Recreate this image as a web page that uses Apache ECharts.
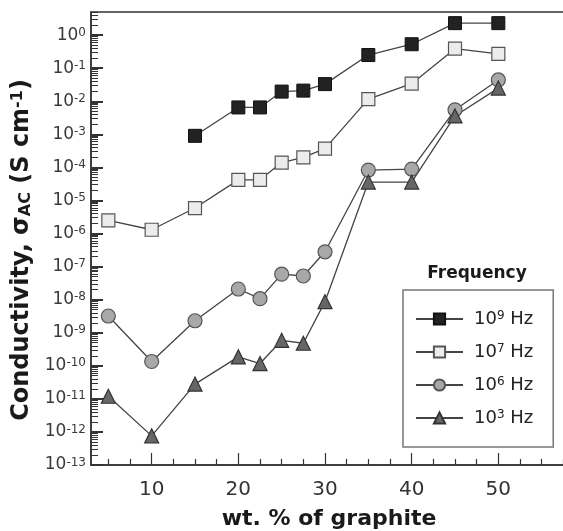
<!DOCTYPE html>
<html>
<head>
<meta charset="utf-8">
<script src="https://cdn.jsdelivr.net/npm/echarts@6/dist/echarts.min.js"></script>
<style>
html,body{margin:0;padding:0;background:#fff;}
#box1{width:563px;height:531px;}
</style>
</head>
<body>
<div id="box1"></div>
<script>
// wt. % graphite
var wt = [5, 10, 15, 20, 22.5, 25, 27.5, 30, 35, 40, 45, 50];
// conductivity (S/cm) per frequency
var hz9 = [null, null, 9e-4, 6.5e-3, 6.5e-3, 0.0196, 0.021, 0.033, 0.25, 0.53, 2.3, 2.3];
var hz7 = [2.5e-6, 1.3e-6, 5.9e-6, 4.2e-5, 4.2e-5, 1.4e-4, 2.0e-4, 3.7e-4, 0.0116, 0.034, 0.39, 0.27];
var hz6 = [3.2e-9, 1.35e-10, 2.3e-9, 2.1e-8, 1.07e-8, 5.9e-8, 5.2e-8, 2.8e-7, 8.3e-5, 8.9e-5, 5.5e-3, 0.044];
var hz3 = [1.2e-11, 7.6e-13, 2.8e-11, 1.86e-10, 1.17e-10, 5.9e-10, 4.8e-10, 8.7e-9, 3.6e-5, 3.6e-5, 3.6e-3, 0.025];

var names = ['10^9 Hz', '10^7 Hz', '10^6 Hz', '10^3 Hz'];
var xLabels = [10, 20, 30, 40, 50];
var xMinor = [5, 7.5, 12.5, 15, 17.5, 22.5, 25, 27.5, 32.5, 35, 37.5, 42.5, 45, 47.5, 52.5, 55, 57.5];

var yMin = 1e-13, yMax = 5;
var yMajor = [];
var yMinorLog = []; // minor ticks, in log10 units for the helper axis
for (var k = -13; k <= 0; k++) {
    yMajor.push(Math.pow(10, k));
    for (var m = 2; m <= 9; m++) {
        if (m * Math.pow(10, k) <= yMax) yMinorLog.push(k + Math.log10(m));
    }
}

function pairs(arr) {
    var out = [];
    for (var i = 0; i < wt.length; i++) {
        if (arr[i] != null) out.push([wt[i], arr[i]]);
    }
    return out;
}

var font = 'DejaVu Sans';
var lineCol = '#444';

var myChart = echarts.init(document.getElementById('box1'));

var option = {
    animation: false,
    backgroundColor: '#fff',
    textStyle: {fontFamily: font},
    title: {
        text: 'Frequency',
        left: 477,
        top: 265,
        padding: 0,
        textAlign: 'center',
        textStyle: {fontFamily: font, fontSize: 17, fontWeight: 'bold', color: '#1a1a1a'}
    },
    legend: {
        orient: 'vertical',
        left: 403,
        top: 290,
        padding: [20, 20, 20, 12],
        itemGap: 15,
        itemWidth: 47,
        itemHeight: 14,
        borderColor: '#777',
        borderWidth: 1.5,
        data: names,
        formatter: function (name) {
            var p = name.split(' ')[0].split('^');
            return '{b|' + p[0] + '}{s|' + p[1] + '}{b| Hz}';
        },
        textStyle: {
            padding: [0, 0, 0, 6],
            rich: {
                b: {fontFamily: font, fontSize: 18, lineHeight: 18, color: '#222'},
                s: {fontFamily: font, fontSize: 12, lineHeight: 12, verticalAlign: 'top', color: '#222'}
            }
        }
    },
    grid: {
        show: true,
        left: 91,
        top: 12,
        right: -22,
        bottom: 66,
        borderColor: '#333',
        borderWidth: 1.5,
        backgroundColor: 'transparent',
        outerBoundsMode: 'none'
    },
    xAxis: [{
        type: 'value',
        position: 'bottom',
        min: 3,
        max: 60,
        name: 'wt. % of graphite',
        nameLocation: 'middle',
        nameGap: 43,
        nameTextStyle: {fontFamily: font, fontSize: 22, fontWeight: 'bold', color: '#1a1a1a', padding: [0, 18, 0, 0]},
        axisLine: {onZero: false, lineStyle: {color: '#333', width: 1.5}},
        axisTick: {inside: true, length: 12, customValues: xLabels, lineStyle: {color: '#333', width: 1.2}},
        axisLabel: {customValues: xLabels, fontFamily: font, fontSize: 20, margin: 15, color: '#333'},
        splitLine: {show: false}
    }, {
        type: 'value',
        position: 'bottom',
        min: 3,
        max: 60,
        axisLine: {show: false, onZero: false},
        axisTick: {inside: true, length: 6, customValues: xMinor, lineStyle: {color: '#333', width: 1.2}},
        axisLabel: {show: false},
        splitLine: {show: false}
    }],
    yAxis: [{
        type: 'log',
        position: 'left',
        logBase: 10,
        min: yMin,
        max: yMax,
        name: 'Conductivity, σ{sub|AC} (S cm{sup|-1})',
        nameLocation: 'middle',
        nameRotate: 90,
        nameGap: 48,
        nameTextStyle: {
            padding: [0, 23, 0, 0],
            fontFamily: font, fontSize: 24, fontWeight: 'bold', color: '#1a1a1a',
            rich: {
                sub: {fontFamily: font, fontSize: 16, fontWeight: 'bold', lineHeight: 12, verticalAlign: 'bottom', color: '#1a1a1a'},
                sup: {fontFamily: font, fontSize: 16, fontWeight: 'bold', lineHeight: 12, verticalAlign: 'top', color: '#1a1a1a'}
            }
        },
        axisLine: {onZero: false, lineStyle: {color: '#333', width: 1.5}},
        axisTick: {inside: true, length: 12, customValues: yMajor, lineStyle: {color: '#333', width: 2}},
        axisLabel: {
            customValues: yMajor,
            margin: 5,
            formatter: function (val) {
                return '{b|10}{s|' + Math.round(Math.log10(val)) + '}';
            },
            rich: {
                b: {fontFamily: font, fontSize: 17, lineHeight: 17, color: '#3a3a3a'},
                s: {fontFamily: font, fontSize: 12, lineHeight: 12, verticalAlign: 'top', color: '#3a3a3a'}
            }
        },
        splitLine: {show: false}
    }, {
        // helper axis for log minor ticks
        type: 'value',
        position: 'left',
        min: Math.log10(yMin),
        max: Math.log10(yMax),
        axisLine: {show: false, onZero: false},
        axisTick: {inside: true, length: 7, customValues: yMinorLog, lineStyle: {color: '#333', width: 1}},
        axisLabel: {show: false},
        splitLine: {show: false}
    }],
    series: [{
        name: names[0],
        type: 'line',
        data: pairs(hz9),
        symbol: 'rect',
        symbolSize: 13,
        lineStyle: {color: lineCol, width: 1.3},
        itemStyle: {color: '#222', borderColor: '#111', borderWidth: 1}
    }, {
        name: names[1],
        type: 'line',
        data: pairs(hz7),
        symbol: 'rect',
        symbolSize: 13,
        lineStyle: {color: lineCol, width: 1.3},
        itemStyle: {color: '#ececec', borderColor: '#555', borderWidth: 1.2}
    }, {
        name: names[2],
        type: 'line',
        data: pairs(hz6),
        symbol: 'circle',
        symbolSize: 14,
        lineStyle: {color: lineCol, width: 1.3},
        itemStyle: {color: '#a8a8a8', borderColor: '#555', borderWidth: 1.2}
    }, {
        name: names[3],
        type: 'line',
        data: pairs(hz3),
        symbol: 'triangle',
        symbolSize: 14,
        lineStyle: {color: lineCol, width: 1.3},
        itemStyle: {color: '#666', borderColor: '#333', borderWidth: 1.2}
    }]
};

myChart.setOption(option);
</script>
</body>
</html>
